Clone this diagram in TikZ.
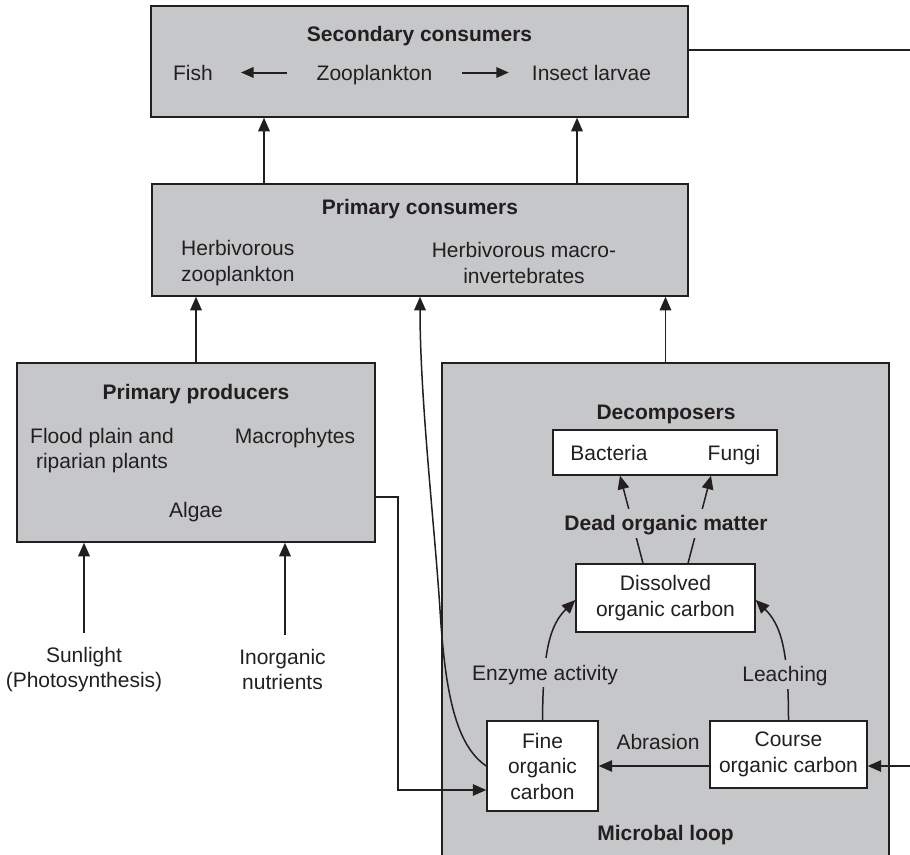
\documentclass[tikz,border=0pt]{standalone}
\usepackage{fontspec}
\setmainfont{Liberation Sans}
\usetikzlibrary{arrows.meta}
\definecolor{boxgray}{HTML}{C6C7C9}
\definecolor{ink}{HTML}{231F20}
\begin{document}
\begin{tikzpicture}[x=1pt,y=-1pt,
  every node/.style={font=\fontsize{21}{25.5}\selectfont, text=ink},
  graybox/.style 2 args={draw=ink, line width=1.5pt, fill=boxgray, inner sep=0pt,
    minimum width=#1, minimum height=#2},
  whitebox/.style 2 args={draw=ink, line width=1.4pt, fill=white, inner sep=0pt,
    minimum width=#1, minimum height=#2, align=center},
  lbl/.style={inner sep=0pt, text height=15pt, text depth=0pt},
  ttl/.style={lbl, font=\fontsize{21}{25.5}\selectfont\bfseries},
  multi/.style={inner sep=0pt, align=center},
  gaplbl/.style={lbl, fill=boxgray, inner xsep=3pt, inner ysep=7pt},
  arr/.style={draw=ink, line width=1.5pt, -{Triangle[length=13.5pt,width=11.5pt]}},
  boxarr/.style={draw=ink, line width=2pt, -{Triangle[length=12.5pt,width=10.5pt]}},
  wire/.style={draw=ink, line width=1.5pt}]

\useasboundingbox (0,0) rectangle (910,854);

% ---- boxes ----
\node[graybox={537pt}{111pt}] (sec) at (419.5,61.5) {};
\node[graybox={536pt}{112pt}] (pc)  at (420,240) {};
\node[graybox={358pt}{179pt}] (pp)  at (196,452.5) {};
\node[graybox={447pt}{499pt}] (ml)  at (665.5,612.5) {};
\node[whitebox={224pt}{45pt}] (dec) at (665,452.5) {};
\node[whitebox={179pt}{68pt}] (doc) at (665.5,598) {Dissolved\\organic carbon};
\node[whitebox={111pt}{90pt}] (foc) at (542.5,766) {Fine\\organic\\carbon};
\node[whitebox={157pt}{67pt}] (coc) at (788.5,754.5) {Course\\organic carbon};

% ---- secondary consumers ----
\node[ttl] (secT) at (419.5,34) {Secondary consumers};
\node[lbl] (fish) at (193,72.5) {Fish};
\node[lbl] (zoo) at (374.5,72.5) {Zooplankton};
\node[lbl] (insect) at (591.5,72.5) {Insect larvae};
\draw[boxarr, shorten <=30pt, shorten >=28pt] (zoo.west) -- (fish.east);
\draw[boxarr, shorten <=30pt, shorten >=23pt] (zoo.east) -- (insect.west);

% ---- primary consumers ----
\node[ttl] (pcT) at (420,207) {Primary consumers};
\node[multi, align=left, anchor=west] (herbZ) at (181,263) {Herbivorous\\zooplankton};
\node[multi] (herbM) at (524,263) {Herbivorous macro-\\invertebrates};

% ---- primary producers ----
\node[ttl] (ppT) at (196,392) {Primary producers};
\node[multi] (flood) at (102,450.5) {Flood plain and\\riparian plants};
\node[lbl] (macro) at (295,436) {Macrophytes};
\node[lbl] (algae) at (196,510) {Algae};

% ---- abiotic inputs ----
\node[multi] (sun) at (84,669.5) {Sunlight\\(Photosynthesis)};
\node[multi] (inorg) at (282.5,669.5) {Inorganic\\nutrients};

% ---- microbial loop ----
\node[ttl] (decT) at (666,412) {Decomposers};
\node[lbl] (bact) at (609,452.5) {Bacteria};
\node[lbl] (fungi) at (734,452.5) {Fungi};
\node[ttl] (mlT) at (665.5,833) {Microbal loop};

% ---- connectors between trophic levels ----
\coordinate (up1) at ([xshift=-156pt]pc.north);
\coordinate (up2) at ([xshift=157pt]pc.north);
\draw[arr] (up1) -- (up1 |- sec.south);
\draw[arr] (up2) -- (up2 |- sec.south);
\draw[arr] (pp.north) -- (pp.north |- pc.south);
\draw[arr] (ml.north) -- (ml.north |- pc.south);
\coordinate (outR) at (910,50);
\draw[wire, line width=2pt] ([yshift=11.5pt]sec.east) -- (outR);

\draw[arr, shorten <=14pt] (sun.north) -- (sun.north |- pp.south);
\coordinate (inU) at ([xshift=2.5pt]inorg.north);
\draw[arr, shorten <=14pt] (inU) -- (inU |- pp.south);

% producers feed fine organic carbon
\draw[arr] ([yshift=-44.5pt]pp.east) -- ++(22,0) |- ([yshift=-24pt]foc.west);

% fine organic carbon up to primary consumers
\draw[arr] (foc.west) .. controls (455,745) and (445,690) .. (440,610)
  .. controls (435,530) and (420,400) .. (pc.south);

% ---- carbon pathways ----
\coordinate (inR) at (910,766);
\draw[arr] (inR) -- ([yshift=-11.5pt]coc.east);
\draw[arr] ([yshift=-11.5pt]coc.west) -- (foc.east);
\node[lbl] (abr) at (658,741.5) {Abrasion};

\draw[arr] (foc.north) .. controls (543,650) and (550,625) .. ([yshift=-2pt]doc.west);
\draw[arr] (coc.north) .. controls (788.5,650) and (781,625) .. ([yshift=-2pt]doc.east);
\node[gaplbl] (enz) at (545,672.5) {Enzyme activity};
\node[gaplbl] (leach) at (785,674) {Leaching};

\draw[arr] ([xshift=-22.5pt]doc.north) -- ([xshift=-45pt]dec.south);
\draw[arr] ([xshift=22.5pt]doc.north) -- ([xshift=46pt]dec.south);
\node[gaplbl, font=\fontsize{21}{25.5}\selectfont\bfseries] (dom) at (666,523) {Dead organic matter};
\end{tikzpicture}
\end{document}
